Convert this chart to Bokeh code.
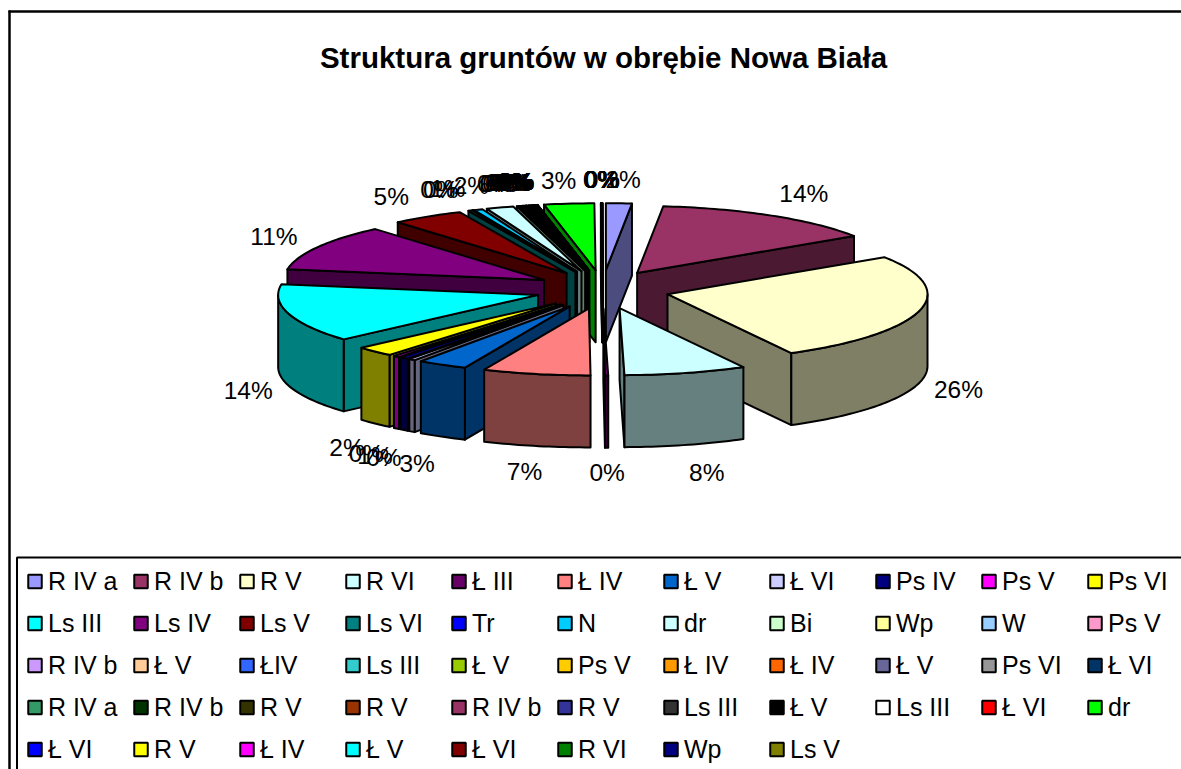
import math
from bokeh.plotting import figure
from bokeh.embed import file_html
from bokeh.resources import INLINE
from bokeh.core.properties import value
from bokeh.models import Range1d

title_text = "Struktura gruntów w obrębie Nowa Biała"

categories = [
    "R IV a", "R IV b", "R V", "R VI", "Ł III", "Ł IV", "Ł V", "Ł VI", "Ps IV", "Ps V", "Ps VI",
    "Ls III", "Ls IV", "Ls V", "Ls VI", "Tr", "N", "dr", "Bi", "Wp", "W", "Ps V",
    "R IV b", "Ł V", "ŁIV", "Ls III", "Ł V", "Ps V", "Ł IV", "Ł IV", "Ł V", "Ps VI", "Ł VI",
    "R IV a", "R IV b", "R V", "R V", "R IV b", "R V", "Ls III", "Ł V", "Ls III", "Ł VI", "dr",
    "Ł VI", "R V", "Ł IV", "Ł V", "Ł VI", "R VI", "Wp", "Ls V",
]
shares = [
    1.6, 14.1, 26.4, 7.6, 0.2, 6.7, 3.1, 0.4, 0.55, 0.4, 2.4,
    14.1, 11.2, 4.5, 0.25, 0.02, 0.55, 1.7, 0.12, 0.12, 0.12, 0.12,
    0.12, 0.12, 0.08, 0.08, 0.01, 0.01, 0.01, 0.01, 0.01, 0.01, 0.01,
    0.01, 0.01, 0.01, 0.01, 0.01, 0.01, 0.01, 0.01, 0.01, 0.01, 3.1,
    0.01, 0.01, 0.01, 0.01, 0.01, 0.01, 0.01, 0.01,
]
colors = [
    "#9999FF", "#993366", "#FFFFCC", "#CCFFFF", "#660066", "#FF8080", "#0066CC", "#CCCCFF", "#000080", "#FF00FF", "#FFFF00",
    "#00FFFF", "#800080", "#800000", "#008080", "#0000FF", "#00CCFF", "#CCFFFF", "#CCFFCC", "#FFFF99", "#99CCFF", "#FF99CC",
    "#CC99FF", "#FFCC99", "#3366FF", "#33CCCC", "#99CC00", "#FFCC00", "#FF9900", "#FF6600", "#666699", "#969696", "#003366",
    "#339966", "#003300", "#333300", "#993300", "#993366", "#333399", "#333333", "#000000", "#FFFFFF", "#FF0000", "#00FF00",
    "#0000FF", "#FFFF00", "#FF00FF", "#00FFFF", "#800000", "#008000", "#000080", "#808000",
]

W, H = 1181, 769
CX, CY, RX, RY, EX, EY, DEPTH = 602.0, 289.0, 260.0, 67.0, 67.0, 19.3, 72.0
FONT = value("Liberation Sans")

# small label shifts (pixels) by slice number, to follow the reference's label placement
nudge = {0: (2, 0), 1: (10, -3), 2: (-3, -1), 3: (10, 4), 5: (-3, 1), 6: (-4, 5),
         7: (-3, 5), 8: (-3, 5), 9: (-3, 5), 10: (2, 5), 11: (1, -4), 12: (-6, -3),
         13: (-13, -1), 14: (-15, 0), 15: (-15, 0), 16: (-14, 0), 17: (-15, 0), 43: (-6, 0)}
for k in range(18, 43):
    nudge[k] = (-12, 0)

p = figure(width=W, height=H, output_backend="svg", toolbar_location=None,
           x_range=Range1d(0, W), y_range=Range1d(H, 0),
           min_border=0, outline_line_color=None)
p.axis.visible = False
p.grid.visible = False
p.background_fill_color = "white"
p.border_fill_color = "white"


def darker(c):
    return "#%02X%02X%02X" % tuple(int(c[i:i + 2], 16) // 2 for i in (1, 3, 5))


total = sum(shares)
slices = []
acc = 0.0
for share, col in zip(shares, colors):
    a0 = acc / total * 2 * math.pi
    acc += share
    a1 = acc / total * 2 * math.pi
    slices.append((a0, a1, col, share))

order = sorted(slices, key=lambda s: -math.cos((s[0] + s[1]) / 2))

xs, ys, fills = [], [], []
for a0, a1, col, share in order:
    mid = (a0 + a1) / 2
    ax = CX + EX * math.sin(mid)
    ay = CY - EY * math.cos(mid)
    n = max(2, int((a1 - a0) / 0.02))
    th = [a0 + (a1 - a0) * i / n for i in range(n + 1)]
    rim = [(ax + RX * math.sin(t), ay - RY * math.cos(t)) for t in th]
    side = darker(col)
    if math.sin(a0) < 0:
        c = rim[0]
        xs.append([ax, c[0], c[0], ax])
        ys.append([ay, c[1], c[1] + DEPTH, ay + DEPTH])
        fills.append(side)
    if math.sin(a1) > 0:
        c = rim[-1]
        xs.append([ax, c[0], c[0], ax])
        ys.append([ay, c[1], c[1] + DEPTH, ay + DEPTH])
        fills.append(side)
    front = [pt for pt, t in zip(rim, th) if math.cos(t) < 0]
    if len(front) >= 2:
        xs.append([q[0] for q in front] + [q[0] for q in reversed(front)])
        ys.append([q[1] for q in front] + [q[1] + DEPTH for q in reversed(front)])
        fills.append(side)
    xs.append([ax] + [q[0] for q in rim])
    ys.append([ay] + [q[1] for q in rim])
    fills.append(col)

p.patches(xs, ys, fill_color=fills, line_color="black", line_width=2, line_join="round")

lx, ly, lt = [], [], []
for i, (a0, a1, col, share) in enumerate(slices):
    mid = (a0 + a1) / 2
    cm = math.cos(mid)
    dx, dy = nudge.get(i, (0, 0))
    lx.append(CX + 370 * math.sin(mid) + dx)
    ly.append((297 - 118 * cm if cm > 0 else 364 - 108 * cm) + dy)
    lt.append("%d%%" % int(share + 0.5))
p.text(lx, ly, text=lt, text_font=FONT, text_font_size="24.5px", text_color="black",
       text_align="center", text_baseline="middle")

p.text([603], [57], text=[title_text], text_font=FONT, text_font_size="29.5px", text_font_style="bold",
       text_color="black", text_align="center", text_baseline="middle")

p.line([9, 9], [10, H], line_color="black", line_width=2.5)
p.line([8, W], [11, 11], line_color="black", line_width=2.5)
p.line([16.5, 16.5, W], [H, 557, 557], line_color="black", line_width=2)

col_x = [34.5 + 106 * i for i in range(11)]
row_y = [581, 623, 665, 707, 749]
lgx, lgy, lgc, tx, ty, tt = [], [], [], [], [], []
for i, (name, col) in enumerate(zip(categories, colors)):
    r, c = divmod(i, 11)
    lgx.append(col_x[c])
    lgy.append(row_y[r])
    lgc.append(col)
    tx.append(col_x[c] + 13)
    ty.append(row_y[r] - 1)
    tt.append(name)
p.scatter(lgx, lgy, marker="square", size=13.5, fill_color=lgc, line_color="black", line_width=2)
p.text(tx, ty, text=tt, text_font=FONT, text_font_size="25px", text_color="black",
       text_align="left", text_baseline="middle")

open("out.html", "w").write(file_html(p, INLINE))
